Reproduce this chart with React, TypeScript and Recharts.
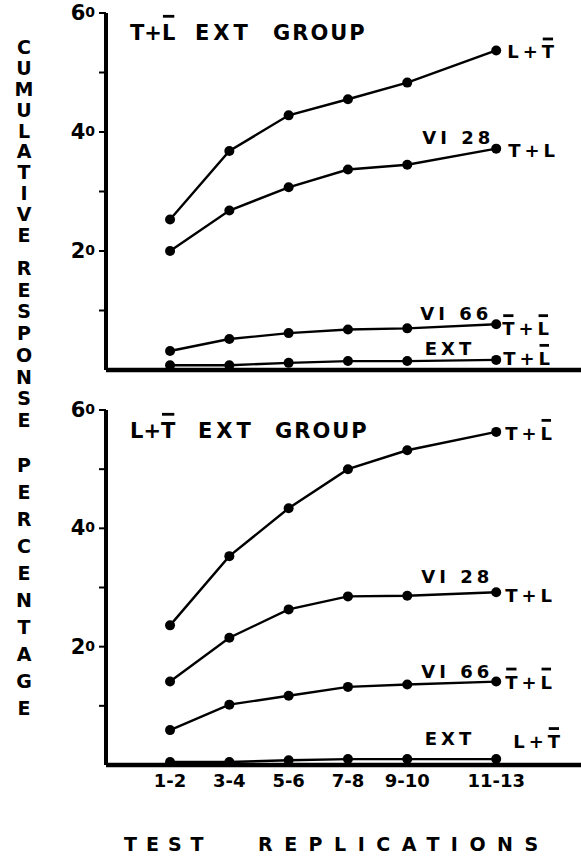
import React from 'react';
import { LineChart, Line, XAxis, YAxis, LabelList } from 'recharts';

// ---------- data ----------
const categories = ['1-2', '3-4', '5-6', '7-8', '9-10', '11-13'];
const xPositions = [1, 2, 3, 4, 5, 6.5];

const topLTbar = [25.3, 36.8, 42.8, 45.5, 48.3, 53.7];
const topVI28 = [20.0, 26.8, 30.7, 33.7, 34.5, 37.2];
const topVI66 = [3.2, 5.2, 6.2, 6.8, 7.0, 7.7];
const topEXT = [0.8, 0.8, 1.2, 1.5, 1.5, 1.7];

const botTLbar = [23.6, 35.3, 43.4, 50.0, 53.2, 56.3];
const botVI28 = [14.1, 21.5, 26.3, 28.5, 28.6, 29.2];
const botVI66 = [5.9, 10.2, 11.7, 13.2, 13.6, 14.1];
const botEXT = [0.5, 0.5, 0.8, 1.0, 1.0, 1.0];

const yTicks = [10, 20, 30, 40, 50, 60];
const yLabelled = [20, 40, 60];

const buildRows = (a: number[], b: number[], c: number[], d: number[]) =>
  xPositions.map((x, i) => ({ x, a: a[i], b: b[i], c: c[i], d: d[i] }));

const topRows = buildRows(topLTbar, topVI28, topVI66, topEXT);
const botRows = buildRows(botTLbar, botVI28, botVI66, botEXT);

// ---------- text helpers ----------
const FONT = '"DejaVu Sans", "Liberation Sans", Arial, sans-serif';
// DejaVu Sans Bold advance widths (em/1000)
const W: Record<string, number> = {
  T: 682, L: 637, '+': 838, V: 776, I: 372, ' ': 348, '2': 696, '8': 696, '6': 696,
  E: 683, X: 740, G: 821, R: 770, O: 850, U: 812, P: 733,
};
const CAP = 0.729;

type Part = { t: string; bar?: boolean };

function BarredText(props: {
  x: number; y: number; parts: Part[]; fs: number; ls: number; gap?: number;
}) {
  const { x, y, parts, fs, ls, gap = 6 } = props;
  const full = parts.map((p) => p.t).join('');
  const bars: React.ReactNode[] = [];
  let cx = x;
  let k = 0;
  for (const p of parts) {
    for (const ch of p.t) {
      const w = ((W[ch] ?? 650) * fs) / 1000;
      if (p.bar) {
        bars.push(
          <rect key={k} x={cx + 1} y={y - fs * CAP - gap - 2.8} width={w - 2} height={2.8} fill="#000" />
        );
      }
      k++;
      cx += w + ls;
    }
  }
  return (
    <g>
      <text x={x} y={y} style={{ fontSize: fs, fontWeight: 700, letterSpacing: ls, fontFamily: FONT }} fill="#000">
        {full}
      </text>
      {bars}
    </g>
  );
}

type LabelCfg = {
  name?: string; ndx?: number; ndy?: number;
  parts: Part[]; rdx: number; rdy: number;
};

const LABEL_FS = 18;

const makeEndLabel = (cfg: LabelCfg) => (props: any) => {
  const { x, y, index } = props;
  if (index !== xPositions.length - 1) return null;
  return (
    <g>
      {cfg.name ? (
        <text
          x={x + (cfg.ndx ?? 0)}
          y={y + (cfg.ndy ?? 0)}
          textAnchor="end"
          style={{ fontSize: LABEL_FS, fontWeight: 700, letterSpacing: 4, fontFamily: FONT }}
          fill="#000"
        >
          {cfg.name}
        </text>
      ) : null}
      <BarredText x={x + cfg.rdx} y={y + cfg.rdy} parts={cfg.parts} fs={LABEL_FS} ls={4} gap={5} />
    </g>
  );
};

const YTick = (props: any) => {
  const { x, y, payload } = props;
  if (!yLabelled.includes(payload.value)) return null;
  const s = String(payload.value);
  return (
    <text x={x} y={y + 7} textAnchor="end" fill="#000" style={{ fontFamily: FONT, fontWeight: 700, fontSize: 21 }}>
      <tspan style={{ fontSize: 21 }}>{s[0]}</tspan>
      <tspan style={{ fontSize: 14 }} dy={-3}>{s[1]}</tspan>
    </text>
  );
};

const X_DOMAIN: [number, number] = [-0.08, 7.93];

function Panel(props: {
  rows: any[]; height: number; xAxisHeight: number; showTicks: boolean; labels: LabelCfg[];
}) {
  const { rows, height, xAxisHeight, showTicks, labels } = props;
  const keys = ['a', 'b', 'c', 'd'];
  return (
    <LineChart width={581} height={height} data={rows} margin={{ top: 13, right: 0, bottom: 0, left: 0 }}>
      <XAxis
        dataKey="x"
        type="number"
        domain={X_DOMAIN}
        ticks={xPositions}
        tickFormatter={(v: number) => categories[xPositions.indexOf(v)] ?? ''}
        height={xAxisHeight}
        axisLine={{ stroke: '#000', strokeWidth: 4.5 }}
        tickLine={false}
        tickSize={0}
        tickMargin={9}
        tick={showTicks ? { fontSize: 18, fontWeight: 700, fill: '#000', fontFamily: FONT } : false}
        interval={0}
      />
      <YAxis
        type="number"
        domain={[0, 60]}
        ticks={yTicks}
        width={106}
        axisLine={{ stroke: '#000', strokeWidth: 4 }}
        tickLine={{ stroke: '#000', strokeWidth: 2 }}
        tickSize={7}
        tickMargin={4}
        tick={<YTick />}
        interval={0}
      />
      {keys.map((k, i) => (
        <Line
          key={k}
          dataKey={k}
          type="linear"
          stroke="#000"
          strokeWidth={2.4}
          dot={{ r: 5, fill: '#000', stroke: '#000', strokeWidth: 0 }}
          isAnimationActive={false}
        >
          <LabelList dataKey={k} content={makeEndLabel(labels[i])} />
        </Line>
      ))}
    </LineChart>
  );
}

const topLabels: LabelCfg[] = [
  { parts: [{ t: 'L+' }, { t: 'T', bar: true }], rdx: 11, rdy: 8 },
  { name: 'VI 28', ndx: -2, ndy: -5, parts: [{ t: 'T+L' }], rdx: 12, rdy: 8 },
  { name: 'VI 66', ndx: -4, ndy: -4, parts: [{ t: 'T', bar: true }, { t: '+' }, { t: 'L', bar: true }], rdx: 6, rdy: 11 },
  { name: 'EXT', ndx: -21, ndy: -5, parts: [{ t: 'T+' }, { t: 'L', bar: true }], rdx: 7, rdy: 5 },
];

const botLabels: LabelCfg[] = [
  { parts: [{ t: 'T+' }, { t: 'L', bar: true }], rdx: 9, rdy: 8 },
  { name: 'VI 28', ndx: -3, ndy: -9, parts: [{ t: 'T+L' }], rdx: 9, rdy: 10 },
  { name: 'VI 66', ndx: -3, ndy: -4, parts: [{ t: 'T', bar: true }, { t: '+' }, { t: 'L', bar: true }], rdx: 9, rdy: 7 },
  { name: 'EXT', ndx: -21, ndy: -14, parts: [{ t: 'L+' }, { t: 'T', bar: true }], rdx: 17, rdy: -11 },
];

const yWords: { w: string; from: number; to: number }[] = [
  { w: 'CUMULATIVE', from: 47, to: 235 },
  { w: 'RESPONSE', from: 268, to: 420 },
  { w: 'PERCENTAGE', from: 465, to: 708 },
];

function Overlay() {
  const big = { fontSize: 21, fontWeight: 700, fontFamily: FONT } as const;
  return (
    <svg width={581} height={865} style={{ position: 'absolute', left: 0, top: 0, pointerEvents: 'none' }}>
      {yWords.map((wd, wi) => {
        const n = wd.w.length;
        return (
          <text key={wi} textAnchor="middle" fill="#000" style={{ fontSize: 19, fontWeight: 700, fontFamily: FONT }}>
            {wd.w.split('').map((ch, i) => (
              <tspan key={i} x={24} y={wd.from + ((wd.to - wd.from) * i) / (n - 1) + 7}>
                {ch}
              </tspan>
            ))}
          </text>
        );
      })}
      <BarredText x={130} y={40} parts={[{ t: 'T+' }, { t: 'L', bar: true }]} fs={21} ls={0} gap={7} />
      <text x={195} y={40} style={{ ...big, letterSpacing: 4 }}>EXT</text>
      <text x={273} y={40} style={{ ...big, letterSpacing: 2 }}>GROUP</text>
      <BarredText x={130} y={438} parts={[{ t: 'L+' }, { t: 'T', bar: true }]} fs={21} ls={0} gap={7} />
      <text x={198} y={438} style={{ ...big, letterSpacing: 4 }}>EXT</text>
      <text x={275} y={438} style={{ ...big, letterSpacing: 2 }}>GROUP</text>
      <text x={124} y={851} style={{ fontSize: 19, fontWeight: 700, fontFamily: FONT, letterSpacing: 9 }}>TEST</text>
      <text x={258} y={851} style={{ fontSize: 19, fontWeight: 700, fontFamily: FONT, letterSpacing: 11.5 }}>REPLICATIONS</text>
    </svg>
  );
}

export default function App() {
  return (
    <div style={{ position: 'absolute', left: 0, top: 0, width: 581, height: 865, background: '#fff' }}>
      <div style={{ position: 'absolute', left: 0, top: 0 }}>
        <Panel rows={topRows} height={380} xAxisHeight={10} showTicks={false} labels={topLabels} />
      </div>
      <div style={{ position: 'absolute', left: 0, top: 397 }}>
        <Panel rows={botRows} height={403} xAxisHeight={35} showTicks={true} labels={botLabels} />
      </div>
      <Overlay />
    </div>
  );
}
